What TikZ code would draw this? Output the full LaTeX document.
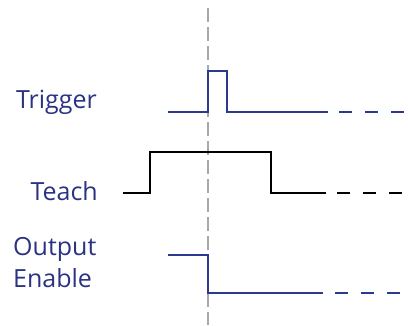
\documentclass[tikz,border=0pt]{standalone}
\usepackage{fontspec}
\setmainfont{Open Sans}
\usetikzlibrary{positioning}
\definecolor{sigblue}{HTML}{2B3990}
\definecolor{lblblue}{HTML}{2A3382}
\definecolor{markgray}{HTML}{A8A8A8}
\tikzset{
    lbl/.style={font=\fontsize{25}{32}\selectfont, text=lblblue, inner sep=0pt},
    wave/.style={line width=2.2pt, line join=miter},
    tail/.style={line width=2.2pt, dash pattern=on 13pt off 13pt},
    marker/.style={line width=1.4pt, draw=markgray, dash pattern=on 14pt off 5pt}
}
\begin{document}
\begin{tikzpicture}[x=1pt, y=-1pt]
    \useasboundingbox (0,0) rectangle (408,325);
    % time marker
    \coordinate (mtop) at (208,8);
    \coordinate (mbot) at (208,325);
    \draw[marker] (mtop) -- (mbot);
    % labels
    \node[lbl, anchor=base east] (trig) at (97,108) {Trigger};
    \node[lbl, anchor=base east] (teach) at (98,200) {Teach};
    \node[lbl, anchor=base west] (outen) at (13,255) {Output};
    \node[lbl, anchor=base west] (enab) at (13,287) {Enable};
    % trigger
    \coordinate (t0) at (168,112);
    \coordinate (t1) at (328,112);
    \draw[wave, sigblue] (t0) -- (208,112) -- (208,71) -- (227,71) -- (227,112) -- (t1);
    \draw[tail, sigblue] (339,112) -- (408,112);
    % teach
    \coordinate (h0) at (123,193);
    \coordinate (h1) at (326,193);
    \draw[wave, black] (h0) -- (150,193) -- (150,152) -- (271,152) -- (271,193) -- (h1);
    \draw[tail, black] (337,193) -- (408,193);
    % output enable
    \coordinate (o0) at (168,255);
    \coordinate (o1) at (323,293);
    \draw[wave, sigblue] (o0) -- (208,255) -- (208,293) -- (o1);
    \draw[tail, sigblue] (335,293) -- (408,293);
\end{tikzpicture}
\end{document}
